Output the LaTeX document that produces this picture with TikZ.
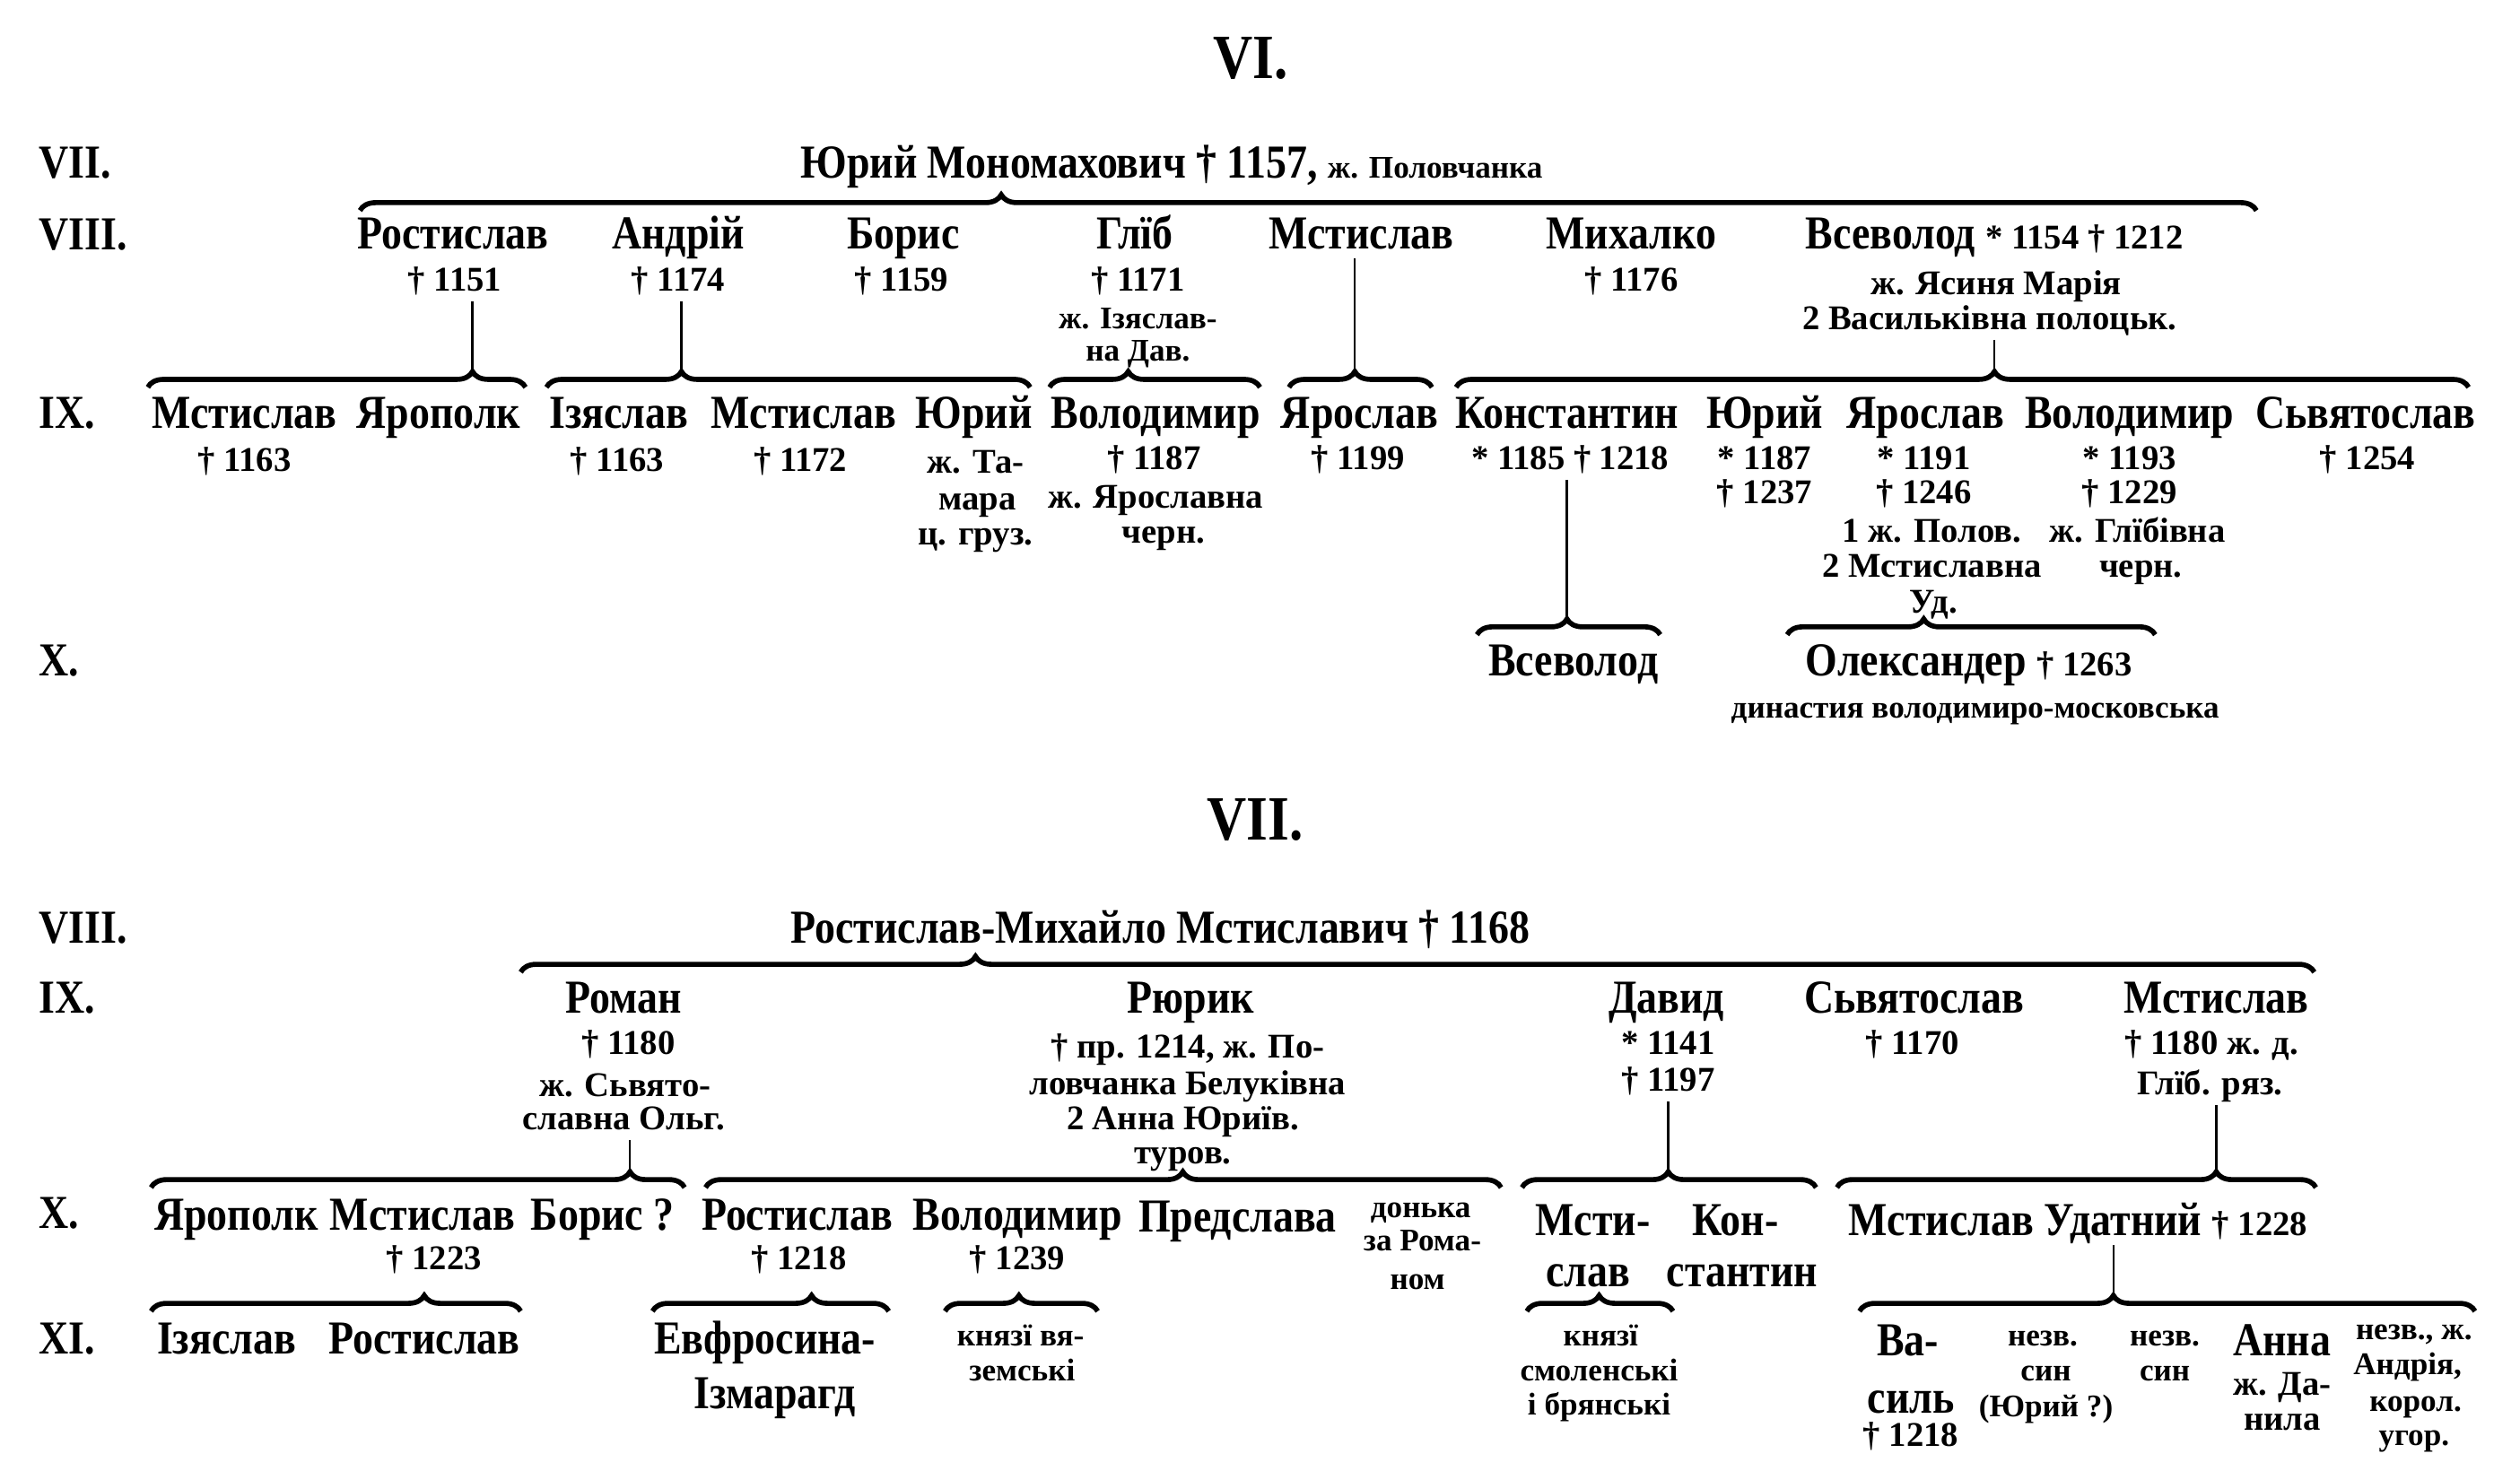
\documentclass[tikz,border=0pt]{standalone}
\usepackage{fontspec}
\setmainfont{Liberation Serif}
\newfontfamily\namefont{Liberation Serif}[FakeStretch=0.87]
\usetikzlibrary{decorations.pathreplacing}

\begin{document}
\begin{tikzpicture}[x=0.17915mm, y=-0.17915mm,
  nm/.style={font=\namefont\bfseries\fontsize{15}{18}\selectfont, inner sep=0pt, text height=9.9pt, text depth=0pt},
  dt/.style={font=\bfseries\fontsize{11}{13}\selectfont, inner sep=0pt, text height=7.4pt, text depth=0pt},
  sm/.style={font=\bfseries\fontsize{10}{12}\selectfont, inner sep=0pt, text height=6.7pt, text depth=0pt},
  lvl/.style={nm, anchor=west},
  ttl/.style={font=\namefont\bfseries\fontsize{20}{24}\selectfont, inner sep=0pt, text height=13.2pt, text depth=0pt},
  brc/.style={line width=1.6pt, decorate},
  stem/.style={line width=0.7pt, shorten <=3pt}]
\def\amp{5pt}
\def\dtxt{\normalfont\bfseries\fontsize{11}{13}\selectfont}
\def\smtxt{\normalfont\bfseries\fontsize{10}{12}\selectfont}
% brace: name, left, tip, right, y of the line
\def\kin#1#2#3#4#5{%
  \pgfmathsetmacro\asp{(#3-#2)/(#4-#2)}
  \coordinate (#1-l) at (#2,#5+5);
  \coordinate (#1-r) at (#4,#5+5);
  \coordinate (#1) at (#3,#5-5);
  \draw[brc, decoration={brace, amplitude=\amp, aspect=\asp}] (#1-l) -- (#1-r);
}
\fill[white] (0,0) rectangle (1568,915);
\useasboundingbox (0,0) rectangle (1568,915);

% ---------------- VI ----------------
\node[ttl, name=t6] at (778,36) {VI.};
\node[lvl, name=g7] at (24,101) {VII.};
\node[lvl, name=g8] at (24,146) {VIII.};
\node[lvl, name=g9] at (24,257) {IX.};
\node[lvl, name=g10] at (24,411) {X.};

\node[nm, name=jurij] at (729,101) {Юрий Мономахович † 1157, {\smtxt ж. Половчанка}};
\kin{k7}{224}{623}{1404}{126}

\node[nm, name=rost] at (282,145) {Ростислав};
\node[dt, name=rost-d] at (283,174) {† 1151};
\node[nm, name=andr] at (422,145) {Андрій};
\node[dt, name=andr-d] at (422,174) {† 1174};
\node[nm, name=bor] at (562,145) {Борис};
\node[dt, name=bor-d] at (561,174) {† 1159};
\node[nm, name=hlib] at (706,145) {Глїб};
\node[dt, name=hlib-d] at (708,174) {† 1171};
\node[sm, name=hlib-n1] at (708,198) {ж. Ізяслав-};
\node[sm, name=hlib-n2] at (708,218) {на Дав.};
\node[nm, name=msti] at (847,145) {Мстислав};
\node[nm, name=mykh] at (1015,145) {Михалко};
\node[dt, name=mykh-d] at (1015,174) {† 1176};
\node[nm, name=vsev] at (1241,145) {Всеволод {\dtxt * 1154 † 1212}};
\node[dt, name=vsev-n1] at (1242,176) {ж. Ясиня Марія};
\node[dt, name=vsev-n2] at (1238,198) {2 Васильківна полоцьк.};

\kin{k-rost}{92}{294}{327}{236}
\kin{k-andr}{340}{424}{641}{236}
\kin{k-hlib}{653}{702}{784}{236}
\kin{k-msti}{802}{843}{891}{236}
\kin{k-vsev}{906}{1241}{1536}{236}
\draw[stem] (rost-d.south -| k-rost) -- (k-rost);
\draw[stem] (andr-d.south -| k-andr) -- (k-andr);
\draw[stem] (msti.south -| k-msti) -- (k-msti);
\draw[stem] (vsev-n2.south -| k-vsev) -- (k-vsev);

\node[nm, name=mst1] at (152,257) {Мстислав};
\node[dt, name=mst1-d] at (152,286) {† 1163};
\node[nm, name=yarp1] at (273,257) {Ярополк};
\node[nm, name=izy1] at (385,257) {Ізяслав};
\node[dt, name=izy1-d] at (384,286) {† 1163};
\node[nm, name=mst2] at (500,257) {Мстислав};
\node[dt, name=mst2-d] at (498,286) {† 1172};
\node[nm, name=yur1] at (606,257) {Юрий};
\node[dt, name=yur1-n1] at (607,287) {ж. Та-};
\node[dt, name=yur1-n2] at (608,310) {мара};
\node[dt, name=yur1-n3] at (607,332) {ц. груз.};
\node[nm, name=vol1] at (719,257) {Володимир};
\node[dt, name=vol1-d] at (718,285) {† 1187};
\node[dt, name=vol1-n1] at (719,309) {ж. Ярославна};
\node[dt, name=vol1-n2] at (724,331) {черн.};
\node[nm, name=yar1] at (846,257) {Ярослав};
\node[dt, name=yar1-d] at (845,285) {† 1199};
\node[nm, name=kon1] at (975,257) {Константин};
\node[dt, name=kon1-d] at (977,285) {* 1185 † 1218};
\node[nm, name=yur2] at (1098,257) {Юрий};
\node[dt, name=yur2-d1] at (1098,285) {* 1187};
\node[dt, name=yur2-d2] at (1098,306) {† 1237};
\node[nm, name=yar2] at (1198,257) {Ярослав};
\node[dt, name=yar2-d1] at (1197,285) {* 1191};
\node[dt, name=yar2-d2] at (1197,306) {† 1246};
\node[dt, name=yar2-n1] at (1202,330) {1 ж. Полов.};
\node[dt, name=yar2-n2] at (1202,352) {2 Мстиславна};
\node[dt, name=yar2-n3] at (1203,374) {Уд.};
\node[nm, name=vol2] at (1325,257) {Володимир};
\node[dt, name=vol2-d1] at (1325,285) {* 1193};
\node[dt, name=vol2-d2] at (1325,306) {† 1229};
\node[dt, name=vol2-n1] at (1330,330) {ж. Глїбівна};
\node[dt, name=vol2-n2] at (1332,352) {черн.};
\node[nm, name=svy1] at (1472,257) {Сьвятослав};
\node[dt, name=svy1-d] at (1473,285) {† 1254};

\kin{k-kon}{919}{975}{1033}{390}
\kin{k-yar}{1112}{1197}{1341}{390}
\draw[stem] (kon1-d.south -| k-kon) -- (k-kon);

\node[nm, name=vsev2] at (979,411) {Всеволод};
\node[nm, name=oleks] at (1225,411) {Олександер {\dtxt † 1263}};
\node[sm, name=dyn] at (1229,440) {династия володимиро-московська};

% ---------------- VII ----------------
\node[ttl, name=t7] at (781,510) {VII.};
\node[lvl, name=h8] at (24,577) {VIII.};
\node[lvl, name=h9] at (24,621) {IX.};
\node[lvl, name=h10] at (24,755) {X.};
\node[lvl, name=h11] at (24,833) {XI.};

\node[nm, name=rostm] at (722,577) {Ростислав-Михайло Мстиславич † 1168};
\kin{k8}{324}{607}{1440}{600}

\node[nm, name=rom] at (388,621) {Роман};
\node[dt, name=rom-d] at (391,649) {† 1180};
\node[dt, name=rom-n1] at (389,675) {ж. Сьвято-};
\node[dt, name=rom-n2] at (388,696) {славна Ольг.};
\node[nm, name=ryu] at (741,621) {Рюрик};
\node[dt, name=ryu-n1] at (739,651) {† пр. 1214, ж. По-};
\node[dt, name=ryu-n2] at (739,674) {ловчанка Белуківна};
\node[dt, name=ryu-n3] at (736,696) {2 Анна Юриїв.};
\node[dt, name=ryu-n4] at (736,717) {туров.};
\node[nm, name=dav] at (1037,621) {Давид};
\node[dt, name=dav-d1] at (1038,649) {* 1141};
\node[dt, name=dav-d2] at (1038,672) {† 1197};
\node[nm, name=svy2] at (1191,621) {Сьвятослав};
\node[dt, name=svy2-d] at (1190,649) {† 1170};
\node[nm, name=mst3] at (1379,621) {Мстислав};
\node[dt, name=mst3-n1] at (1376,649) {† 1180 ж. д.};
\node[dt, name=mst3-n2] at (1375,674) {Глїб. ряз.};

\kin{k-rom}{94}{392}{426}{734}
\kin{k-ryu}{439}{736}{934}{734}
\kin{k-dav}{947}{1038}{1130}{734}
\kin{k-mst3}{1143}{1379}{1441}{734}
\draw[stem] (rom-n2.south -| k-rom) -- (k-rom);
\draw[stem] (dav-d2.south -| k-dav) -- (k-dav);
\draw[stem] (mst3-n2.south -| k-mst3) -- (k-mst3);

\node[nm, name=yarp2] at (147,756) {Ярополк};
\node[nm, name=mst4] at (263,756) {Мстислав};
\node[dt, name=mst4-d] at (270,783) {† 1223};
\node[nm, name=bor2] at (375,756) {Борис ?};
\node[nm, name=ros2] at (496,756) {Ростислав};
\node[dt, name=ros2-d] at (497,783) {† 1218};
\node[nm, name=vol3] at (633,756) {Володимир};
\node[dt, name=vol3-d] at (633,783) {† 1239};
\node[nm, name=pred] at (770,757) {Предслава};
\node[sm, name=don-1] at (884,751) {донька};
\node[sm, name=don-2] at (885,772) {за Рома-};
\node[sm, name=don-3] at (882,796) {ном};
\node[nm, name=mst5-1] at (991,759) {Мсти-};
\node[nm, name=mst5-2] at (988,791) {слав};
\node[nm, name=kon2-1] at (1080,759) {Кон-};
\node[nm, name=kon2-2] at (1084,791) {стантин};
\node[nm, name=udat] at (1293,759) {Мстислав Удатний {\dtxt † 1228}};

\kin{k-mst4}{94}{264}{324}{811}
\kin{k-ros2}{406}{505}{553}{811}
\kin{k-vol3}{588}{634}{683}{811}
\kin{k-mst5}{950}{995}{1041}{811}
\kin{k-udat}{1157}{1315}{1540}{811}
\draw[stem] (udat.south -| k-udat) -- (k-udat);

\node[nm, name=izy2] at (141,833) {Ізяслав};
\node[nm, name=ros3] at (264,833) {Ростислав};
\node[nm, name=evf-1] at (476,833) {Евфросина-};
\node[nm, name=evf-2] at (482,867) {Ізмарагд};
\node[sm, name=vya-1] at (635,831) {князї вя-};
\node[sm, name=vya-2] at (636,853) {земські};
\node[sm, name=smo-1] at (996,831) {князї};
\node[sm, name=smo-2] at (995,853) {смоленські};
\node[sm, name=smo-3] at (995,874) {і брянські};
\node[nm, name=vas-1] at (1187,834) {Ва-};
\node[nm, name=vas-2] at (1189,870) {силь};
\node[dt, name=vas-3] at (1189,893) {† 1218};
\node[sm, name=nz1-1] at (1271,831) {незв.};
\node[sm, name=nz1-2] at (1273,853) {син};
\node[sm, name=nz1-3] at (1273,875) {(Юрий ?)};
\node[sm, name=nz2-1] at (1347,831) {незв.};
\node[sm, name=nz2-2] at (1347,853) {син};
\node[nm, name=anna] at (1420,834) {Анна};
\node[dt, name=anna-n1] at (1420,861) {ж. Да-};
\node[dt, name=anna-n2] at (1420,883) {нила};
\node[sm, name=nz3-1] at (1502,827) {незв., ж.};
\node[sm, name=nz3-2] at (1498,849) {Андрія,};
\node[sm, name=nz3-3] at (1503,872) {корол.};
\node[sm, name=nz3-4] at (1502,893) {угор.};
\end{tikzpicture}
\end{document}
